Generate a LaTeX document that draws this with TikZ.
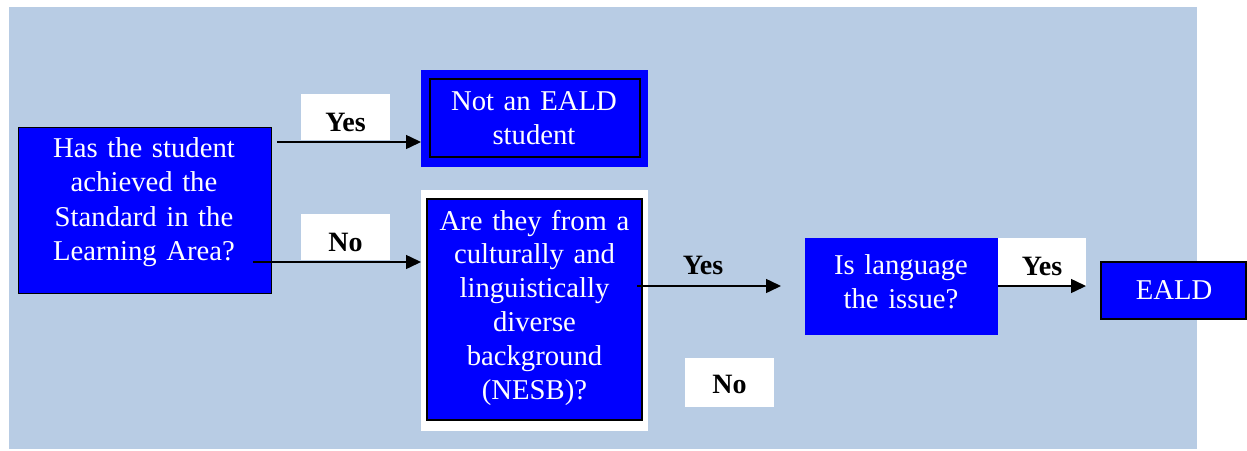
\documentclass[tikz,border=0pt]{standalone}
\usepackage{fontspec}
\setmainfont{Liberation Serif}
\usetikzlibrary{arrows.meta}
\definecolor{bgblue}{HTML}{B8CCE4}
\definecolor{boxblue}{HTML}{0000FF}
\begin{document}
\begin{tikzpicture}[x=1pt,y=-1pt,
  box/.style={fill=boxblue, inner sep=0pt, outer sep=0pt},
  lblbg/.style={fill=white, inner sep=0pt, outer sep=0pt},
  txt/.style={text=white, font=\fontsize{28.7}{34.5}\selectfont, align=center, anchor=base, inner sep=0pt, text width=#1},
  txt/.default=240pt,
  ans/.style={font=\bfseries\fontsize{28}{34}\selectfont, anchor=base, inner sep=0pt},
  arr/.style={line width=1.5pt, -{Triangle[length=15pt,width=14pt]}}]
\useasboundingbox (0,0) rectangle (1247,450);
\fill[bgblue] (9,7) rectangle (1197,449);
% label backgrounds
\node[lblbg, minimum width=89pt, minimum height=46pt] (yes1bg) at (345.5,117) {};
\node[lblbg, minimum width=89pt, minimum height=46pt] (no1bg) at (345.5,237) {};
\node[lblbg, minimum width=89pt, minimum height=49pt] (no2bg) at (729.5,382.5) {};
\node[lblbg, minimum width=88pt, minimum height=48pt] (yes3bg) at (1042,262) {};
% boxes
\node[box, draw=black, line width=1pt, minimum width=253pt, minimum height=166pt] (q1) at (144.5,210) {};
\node[box, minimum width=227pt, minimum height=97pt] (ne) at (534.5,118.5) {};
\node[draw=black, line width=1.3pt, minimum width=210pt, minimum height=78pt, inner sep=0pt, outer sep=0pt] (nein) at (535,118) {};
\node[lblbg, minimum width=227pt, minimum height=241pt] (nesbw) at (534.5,310.5) {};
\node[box, draw=black, line width=1.5pt, minimum width=215pt, minimum height=221pt] (nesb) at (534.5,309.5) {};
\node[box, minimum width=193pt, minimum height=97pt] (lang) at (901.5,286.5) {};
\node[box, draw=black, line width=2pt, minimum width=145pt, minimum height=57pt] (eald) at (1173.5,290.5) {};
% connectors
\coordinate (s1) at (277,142);
\coordinate (s2) at (253,262);
\coordinate (s3) at (637,286);
\coordinate (e3) at (781,286);
\coordinate (s4) at (998,286);
\draw[arr] (s1) -- (s1 -| ne.west);
\draw[arr] (s2) -- (s2 -| nesbw.west);
\draw[arr] (s3) -- (e3);
\draw[arr] (s4) -- (s4 -| yes3bg.east);
% texts
\node[txt] (t1) at (144,157) {Has the student\\achieved the\\Standard in the\\Learning Area?};
\node[txt=210pt] (t2) at (534,110) {Not an EALD\\student};
\node[txt=210pt, font=\fontsize{28.7}{33.8}\selectfont] (t3) at (534.5,230) {Are they from a\\culturally and\\linguistically\\diverse\\background\\(NESB)?};
\node[txt=190pt] (t4) at (901,274) {Is language\\the issue?};
\node[txt=140pt] (t5) at (1174,299) {EALD};
\node[ans] (a1) at (345.5,131) {Yes};
\node[ans] (a2) at (345.5,251) {No};
\node[ans] (a3) at (703,274) {Yes};
\node[ans] (a4) at (729.5,393) {No};
\node[ans] (a5) at (1042,275) {Yes};
\end{tikzpicture}
\end{document}
